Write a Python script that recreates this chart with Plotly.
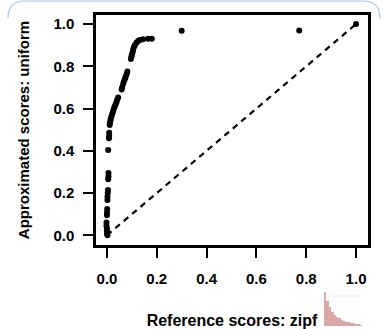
import plotly.graph_objects as go

ref_x = [1.0, 0.772, 0.30,
         0.18, 0.165, 0.145, 0.132, 0.125, 0.118,
         0.112, 0.108, 0.105, 0.103, 0.1, 0.098, 0.096,
         0.082, 0.079, 0.075, 0.072, 0.068, 0.065, 0.061, 0.059,
         0.045, 0.041, 0.038, 0.035, 0.031, 0.028, 0.025, 0.022, 0.019, 0.016, 0.014, 0.012, 0.011,
         0.009, 0.009, 0.008, 0.005,
         0.006, 0.006, 0.005,
         0.004, 0.003, 0.002, 0.002,
         0.001, 0.0, 0.0,
         -0.002, -0.002, 0.0, 0.0, 0.0, 0.002]
approx_y = [1.0, 0.97, 0.968,
            0.93, 0.93, 0.928, 0.925, 0.92, 0.912,
            0.9, 0.89, 0.878, 0.866, 0.855, 0.845, 0.835,
            0.775, 0.762, 0.75, 0.74, 0.728, 0.716, 0.7, 0.69,
            0.652, 0.642, 0.63, 0.62, 0.61, 0.6, 0.588, 0.578, 0.566, 0.555, 0.545, 0.533, 0.522,
            0.485, 0.47, 0.46, 0.404,
            0.295, 0.28, 0.265,
            0.215, 0.2, 0.183, 0.167,
            0.125, 0.108, 0.095,
            0.06, 0.045, 0.032, 0.02, 0.008, 0.0]

diag = [0, 1]
tick_vals = [0.0, 0.2, 0.4, 0.6, 0.8, 1.0]
tick_text = ["0.0", "0.2", "0.4", "0.6", "0.8", "1.0"]

# small decorative zipf-like thumbnail
thumb_rank = list(range(1, 17))
thumb_freq = [33, 24, 18, 14, 11, 9, 7.5, 6, 5, 4.2, 3.5, 3, 2.5, 2, 1.6, 1.2]

W, H = 389, 329

def px(x):
    return x / W

def py(y):
    return (H - y) / H

FAM = "Liberation Sans"

fig = go.Figure()
fig.add_trace(go.Scatter(x=diag, y=diag, mode="lines",
                         line=dict(color="black", width=2.2, dash="6px,5px"),
                         hoverinfo="skip", showlegend=False))
fig.add_trace(go.Scatter(x=ref_x, y=approx_y, mode="markers",
                         marker=dict(color="black", size=6),
                         showlegend=False))
fig.add_trace(go.Bar(x=thumb_rank, y=thumb_freq, xaxis="x2", yaxis="y2",
                     marker=dict(color="rgba(205,130,130,0.7)", line=dict(width=0)),
                     showlegend=False, hoverinfo="skip"))

fig.update_layout(
    width=W, height=H,
    margin=dict(l=0, r=0, t=0, b=0),
    paper_bgcolor="white", plot_bgcolor="white",
    font=dict(family=FAM, size=15, color="black", weight="bold"),
    bargap=0,
    xaxis=dict(domain=[px(96), px(368)], range=[-0.044, 1.048],
               tickvals=tick_vals, ticktext=tick_text,
               ticks="outside", ticklen=10, tickwidth=2, tickcolor="black",
               ticklabelstandoff=8,
               showgrid=False, zeroline=False, automargin=False,
               showline=True, linewidth=2.5, linecolor="black", mirror=True,
               tickfont=dict(size=15, family=FAM, weight="bold"),
               title=dict(text="Reference scores: zipf",
                          font=dict(size=16, family=FAM, weight="bold"),
                          standoff=30)),
    yaxis=dict(domain=[py(245), py(15)], range=[-0.046, 1.043],
               tickvals=tick_vals, ticktext=tick_text,
               ticks="outside", ticklen=10, tickwidth=2, tickcolor="black",
               ticklabelstandoff=6,
               showgrid=False, zeroline=False, automargin=False,
               showline=True, linewidth=2.5, linecolor="black", mirror=True,
               tickfont=dict(size=15, family=FAM, weight="bold"),
               title=dict(text="Approximated scores: uniform",
                          font=dict(size=15, family=FAM, weight="bold"),
                          standoff=21)),
    xaxis2=dict(domain=[px(324), px(362)], anchor="y2", range=[0.5, 16.5],
                visible=False, fixedrange=True),
    yaxis2=dict(domain=[py(326), py(291)], anchor="x2", range=[0, 34],
                visible=False, fixedrange=True),
    shapes=[
        dict(type="path", xref="paper", yref="paper",
             path=(f"M {px(8)},{py(18)} Q {px(8)},{py(1)} {px(25)},{py(1)} "
                   f"L {px(363)},{py(1)} Q {px(380)},{py(1)} {px(380)},{py(18)}"),
             line=dict(color="#a9c3e3", width=1.2)),
        dict(type="path", xref="paper", yref="paper",
             path=f"M {px(327)},{py(296)} L {px(360)},{py(296)}",
             line=dict(color="#eeeeee", width=1)),
    ],
)

fig.write_html("out.html")
